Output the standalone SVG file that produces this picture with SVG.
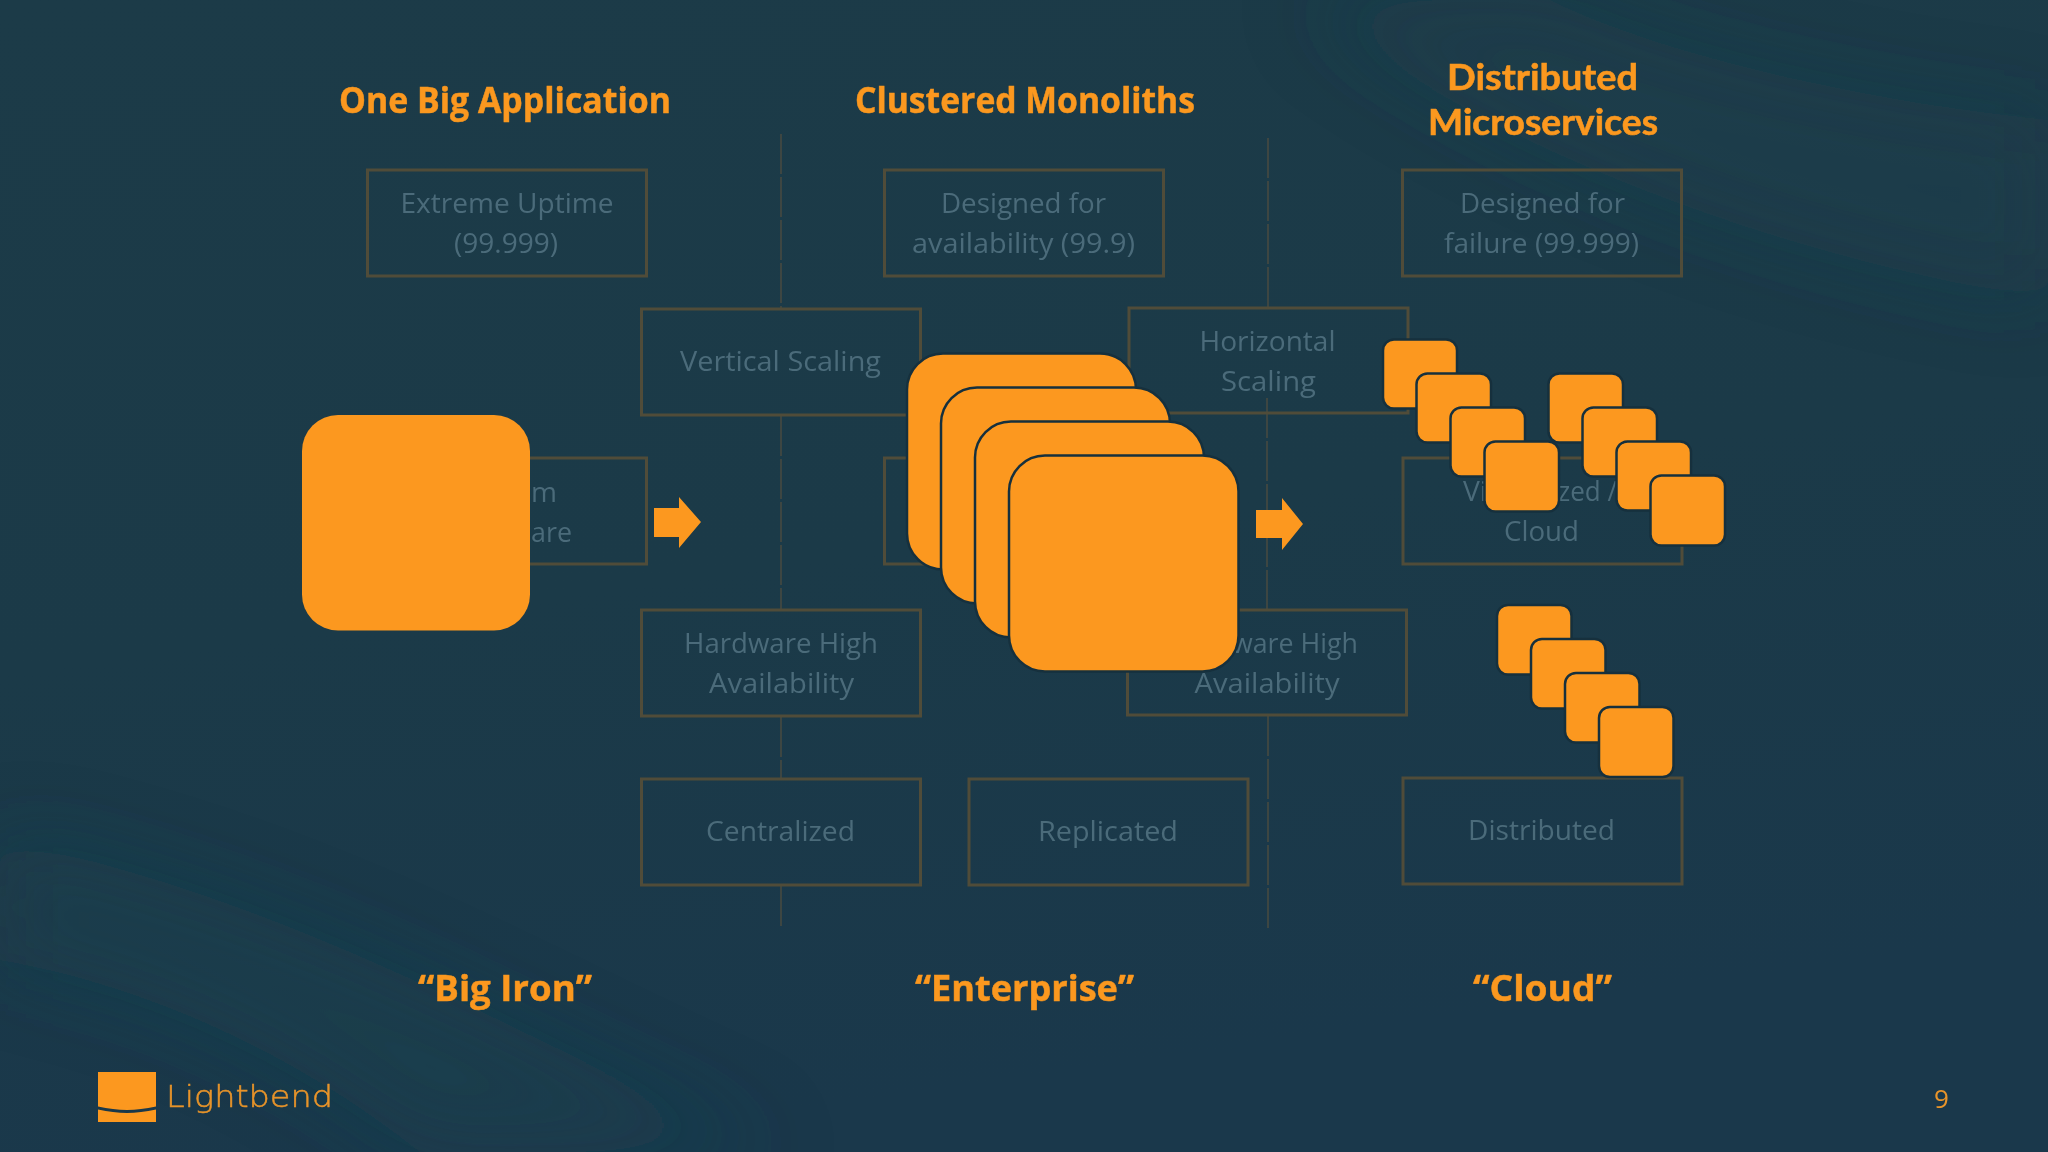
<svg xmlns="http://www.w3.org/2000/svg" width="2048" height="1152" viewBox="0 0 2048 1152">
<style>
text{font-family:"Open Sans","Noto Sans",sans-serif}
.t{font-size:36.500px;font-weight:700;fill:#fb981f;stroke:#fb981f;stroke-width:.5}
.t2{font-family:"Lato","Open Sans",sans-serif;font-size:36px;font-weight:700;fill:#fb981f;stroke:#fb981f;stroke-width:.6}
.b{font-size:28px;font-weight:400;fill:#4b6b7a}
.box{fill:none;stroke:#504c39;stroke-width:3}
.big{fill:#fc981f;stroke:#16303d;stroke-width:2.500}
.sm{fill:#fc981f;stroke:#16303d;stroke-width:2.500}
.dv{stroke:#4a4b40;stroke-width:1.500;stroke-dasharray:40 3;fill:none}
.ar{fill:#fc981f}
</style>
<defs>
<linearGradient id="bg" x1="0" y1="0" x2="0.25" y2="1">
<stop offset="0" stop-color="#1c3b48"/><stop offset="0.55" stop-color="#1b3a48"/><stop offset="1" stop-color="#1a384b"/>
</linearGradient>
<filter id="soft" x="-20%" y="-20%" width="140%" height="140%"><feGaussianBlur stdDeviation="40"/></filter>
</defs>
<rect width="2048" height="1152" fill="url(#bg)"/>
<g filter="url(#soft)">
<path d="M0 840C300 900 520 1040 780 1152L420 1152C280 1040 120 980 0 960Z" fill="#1f4350" opacity="0.4"/>
<path d="M1300 0C1500 160 1800 260 2048 300L2048 120C1850 100 1650 50 1550 0Z" fill="#1f424e" opacity="0.3"/>
</g>
<g id="connectors">
<path class="dv" d="M781 134V308M781 416V609M781 717V778M781 886V926M1268 138V307M1268 716V930M1267 398V609"/>
</g>
<g id="n-extreme"><rect class="box" x="367.500" y="170" width="279" height="106"/><text class="b" x="400.500" y="213" textLength="213" lengthAdjust="spacingAndGlyphs">Extreme Uptime</text><text class="b" x="454" y="253" textLength="104" lengthAdjust="spacingAndGlyphs">(99.999)</text></g>
<g id="n-designed-avail"><rect class="box" x="884.500" y="170" width="279" height="106"/><text class="b" x="941" y="213" textLength="165" lengthAdjust="spacingAndGlyphs">Designed for</text><text class="b" x="912" y="253" textLength="223" lengthAdjust="spacingAndGlyphs">availability (99.9)</text></g>
<g id="n-designed-fail"><rect class="box" x="1402.500" y="170" width="279" height="106"/><text class="b" x="1460" y="213" textLength="165" lengthAdjust="spacingAndGlyphs">Designed for</text><text class="b" x="1444" y="253" textLength="195" lengthAdjust="spacingAndGlyphs">failure (99.999)</text></g>
<g id="n-vertical"><rect class="box" x="641.500" y="309" width="279" height="106"/><text class="b" x="680" y="371" textLength="201" lengthAdjust="spacingAndGlyphs">Vertical Scaling</text></g>
<g id="n-horizontal"><rect class="box" x="1129" y="308" width="279" height="105"/><text class="b" x="1199.500" y="351" textLength="136" lengthAdjust="spacingAndGlyphs">Horizontal</text><text class="b" x="1221" y="391" textLength="95" lengthAdjust="spacingAndGlyphs">Scaling</text></g>
<g id="n-custom"><rect class="box" x="367.500" y="458" width="279" height="106"/><text class="b" x="531" y="502" textLength="26" lengthAdjust="spacingAndGlyphs">m</text><text class="b" x="531" y="542" textLength="41" lengthAdjust="spacingAndGlyphs">are</text></g>
<g id="n-col2-mid"><rect class="box" x="884.500" y="458" width="279" height="106"/></g>
<g id="n-virtual"><rect class="box" x="1403" y="458" width="279" height="106"/><text class="b" x="1463" y="501" textLength="24" lengthAdjust="spacingAndGlyphs">Vi</text><text class="b" x="1558" y="501" textLength="59" lengthAdjust="spacingAndGlyphs">zed /</text><text class="b" x="1504" y="541" textLength="75" lengthAdjust="spacingAndGlyphs">Cloud</text></g>
<g id="n-hw-ha"><rect class="box" x="641.500" y="610" width="279" height="106"/><text class="b" x="684" y="653" textLength="194" lengthAdjust="spacingAndGlyphs">Hardware High</text><text class="b" x="709" y="693" textLength="145" lengthAdjust="spacingAndGlyphs">Availability</text></g>
<g id="n-sw-ha"><rect class="box" x="1127.500" y="610" width="279" height="105"/><text class="b" x="1232" y="653" textLength="126" lengthAdjust="spacingAndGlyphs">ware High</text><text class="b" x="1194.500" y="693" textLength="145" lengthAdjust="spacingAndGlyphs">Availability</text></g>
<g id="n-centralized"><rect class="box" x="641.500" y="779" width="279" height="106"/><text class="b" x="706" y="841" textLength="149" lengthAdjust="spacingAndGlyphs">Centralized</text></g>
<g id="n-replicated"><rect class="box" x="969" y="779" width="279" height="106"/><text class="b" x="1038" y="841" textLength="140" lengthAdjust="spacingAndGlyphs">Replicated</text></g>
<g id="n-distributed"><rect class="box" x="1403" y="778" width="279" height="106"/><text class="b" x="1468" y="840" textLength="147" lengthAdjust="spacingAndGlyphs">Distributed</text></g>
<g id="titles">
<text class="t" x="339" y="113" textLength="332" lengthAdjust="spacingAndGlyphs">One Big Application</text>
<text class="t" x="855" y="113" textLength="340" lengthAdjust="spacingAndGlyphs">Clustered Monoliths</text>
<text class="t2" x="1447" y="90" textLength="191" lengthAdjust="spacingAndGlyphs">Distributed</text>
<text class="t2" x="1428" y="135" textLength="230" lengthAdjust="spacingAndGlyphs">Microservices</text>
<text class="t" x="418" y="1001" textLength="174" lengthAdjust="spacingAndGlyphs">“Big Iron”</text>
<text class="t" x="915" y="1001" textLength="219" lengthAdjust="spacingAndGlyphs">“Enterprise”</text>
<text class="t" x="1473" y="1001" textLength="139" lengthAdjust="spacingAndGlyphs">“Cloud”</text>
</g>
<g id="n-bigiron"><rect x="302" y="415" width="228" height="215.500" rx="36" fill="#fc981f"/></g>
<g id="n-monoliths">
<rect class="big" x="907" y="353.500" width="229" height="216" rx="36"/>
<rect class="big" x="941" y="387.500" width="229" height="216" rx="36"/>
<rect class="big" x="975" y="421.500" width="229" height="216" rx="36"/>
<rect class="big" x="1009" y="455.500" width="229.500" height="216" rx="36"/>
</g>
<g id="arrows">
<path class="ar" d="M654 508H679V497L701 522L679 548V537H654Z"/>
<path class="ar" d="M1256 510H1282V498L1303 524L1282 550V538H1256Z"/>
</g>
<g id="n-ms-a">
<rect class="sm" x="1383" y="339.500" width="74" height="69" rx="11"/><rect class="sm" x="1416.500" y="373.500" width="74.500" height="69" rx="11"/><rect class="sm" x="1450.500" y="407.500" width="74.500" height="69" rx="11"/><rect class="sm" x="1484.500" y="441.500" width="74.500" height="70" rx="11"/>
</g>
<g id="n-ms-b">
<rect class="sm" x="1548.500" y="373.500" width="74.500" height="69" rx="11"/><rect class="sm" x="1582.500" y="407.500" width="74.500" height="69" rx="11"/><rect class="sm" x="1616.500" y="441.500" width="74.500" height="69" rx="11"/><rect class="sm" x="1650.500" y="475.500" width="74.500" height="70" rx="11"/>
</g>
<g id="n-ms-c">
<rect class="sm" x="1497" y="605" width="74.500" height="69.500" rx="11"/><rect class="sm" x="1531" y="639" width="74.500" height="69.500" rx="11"/><rect class="sm" x="1565" y="673" width="74.500" height="69.500" rx="11"/><rect class="sm" x="1599" y="707" width="74.500" height="70" rx="11"/>
</g>
<g id="logo">
<path d="M98 1072H156V1106.500C135 1111 119 1111 98 1106.500Z" fill="#fc981f"/>
<path d="M98 1109.500C119 1114 135 1114 156 1109.500V1122H98Z" fill="#fc981f"/>
<text x="166" y="1107" font-size="31" style="font-family:'DejaVu Sans',sans-serif;font-weight:200;fill:#e8942a;stroke:#e8942a;stroke-width:.5" textLength="167" lengthAdjust="spacingAndGlyphs">Lightbend</text>
</g>
<text x="1934" y="1108" style="font-size:26px;fill:#e8942a">9</text>
</svg>
